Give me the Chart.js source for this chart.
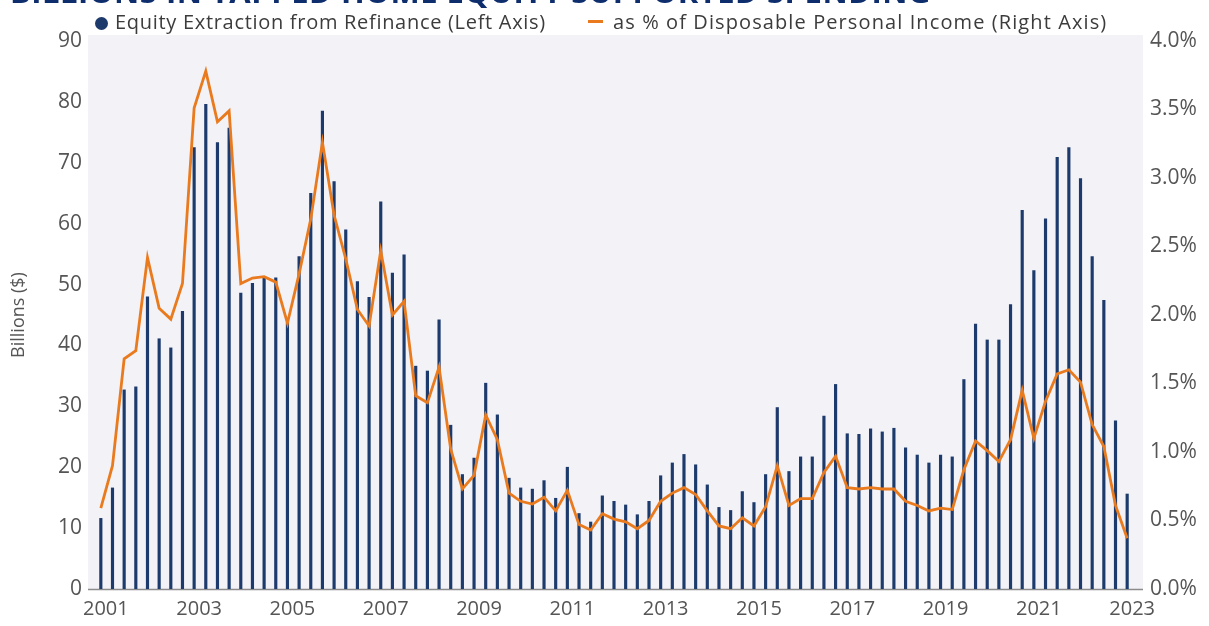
<!DOCTYPE html>
<html>
<head>
<meta charset="utf-8">
<script src="https://cdn.jsdelivr.net/npm/chart.js@4"></script>
<style>
  html, body { margin: 0; padding: 0; background: #fff; }
  #wrap { position: relative; width: 1209px; height: 626px; overflow: hidden; }
  #title {
    position: absolute; left: 10px; top: -30px; white-space: nowrap;
    font: 700 31px "Open Sans", Roboto, sans-serif; color: #0d2d6c; letter-spacing: 0.5px;
  }
  canvas { position: absolute; left: 0; top: 0; }
  .legend { position: absolute; top: 8px; height: 24px; line-height: 24px; white-space: nowrap;
    font: 20px "Open Sans", sans-serif; color: #3c3c3c; letter-spacing: 0.7px; }
  #leg2 { letter-spacing: 1.1px; }
  .legend .dot { display: inline-block; width: 13px; height: 13px; border-radius: 50%; background: #1c3a6b;
    vertical-align: -1px; margin-right: 7px; }
  .legend .ln { display: inline-block; width: 15px; height: 3px; background: #ea7a1e;
    vertical-align: 6px; margin-right: 10px; }
</style>
</head>
<body>
<div id="wrap">
  <canvas id="myChart" width="1209" height="626"></canvas>
  <div id="title">BILLIONS IN TAPPED HOME EQUITY SUPPORTED SPENDING</div>
  <div class="legend" id="leg1" style="left:95px"><span class="dot"></span></div>
  <div class="legend" id="leg2" style="left:588px"><span class="ln"></span></div>
</div>
<script>
// quarterly, 2001 Q1 .. 2023 Q1
const firstYear = 2001
const lastYear = 2023
const quarters = []
for (let y = firstYear; y <= lastYear; y++) {
    for (let q = 1; q <= 4; q++) {
        if (y === lastYear && q > 1) break
        quarters.push(y + ' Q' + q)
    }
}

const seriesNames = [
    'Equity Extraction from Refinance (Left Axis)',
    'as % of Disposable Personal Income (Right Axis)'
]

// equity extraction from refinance, billions $
const equityExtraction = [
    11.6, 16.6, 32.7, 33.2, 48.0, 41.1, 39.6, 45.6, 72.5, 79.6, 73.3, 75.7,
    48.6, 50.2, 51.1, 51.1, 43.7, 54.6, 65.0, 78.5, 66.9, 59.0,
    50.5, 47.9, 63.6, 51.9, 54.9, 36.6, 35.8, 44.2, 26.9, 18.8, 21.5, 33.8,
    28.6, 18.2, 16.6, 16.4, 17.8, 14.9, 20.0, 12.4, 11.0, 15.3, 14.4,
    13.8, 12.2, 14.4, 18.6, 20.7, 22.1, 20.4, 17.1, 13.4, 12.9, 16.0, 14.2,
    18.8, 29.8, 19.3, 21.7, 21.7, 28.4, 33.6, 25.5, 25.4, 26.3, 25.8,
    26.4, 23.2, 22.0, 20.7, 22.0, 21.7, 34.4, 43.5, 40.9, 40.9, 46.7, 62.2,
    52.3, 60.8, 70.9, 72.5, 67.4, 54.6, 47.4, 27.6, 15.6
]

// as % of disposable personal income
const pctOfIncome = [
    0.59, 0.90, 1.68, 1.74, 2.42, 2.05, 1.97, 2.23, 3.51, 3.78, 3.41, 3.49,
    2.23, 2.27, 2.28, 2.24, 1.94, 2.30, 2.70, 3.26, 2.73, 2.41,
    2.04, 1.92, 2.47, 2.00, 2.10, 1.41, 1.36, 1.62, 1.02, 0.73, 0.83, 1.27,
    1.09, 0.70, 0.64, 0.62, 0.67, 0.57, 0.72, 0.47, 0.43, 0.55, 0.51,
    0.49, 0.44, 0.50, 0.64, 0.70, 0.74, 0.69, 0.57, 0.46, 0.44, 0.52, 0.46,
    0.60, 0.90, 0.61, 0.66, 0.66, 0.85, 0.97, 0.74, 0.73, 0.74, 0.73,
    0.73, 0.64, 0.61, 0.57, 0.59, 0.58, 0.87, 1.08, 1.01, 0.93, 1.09, 1.45,
    1.10, 1.37, 1.57, 1.60, 1.51, 1.20, 1.04, 0.61, 0.37
]

const navy = '#1c3a6b'
const orange = '#ea7a1e'
const tickColor = '#555555'
const tickFont = {family: 'Open Sans', size: 20}
const yTickFont = {family: 'Open Sans', size: 21}

document.getElementById('leg1').appendChild(document.createTextNode(seriesNames[0]))
document.getElementById('leg2').appendChild(document.createTextNode(seriesNames[1]))

// grey plot panel + base line
const panel = {
    id: 'panel',
    beforeDraw(chart) {
        const {ctx, chartArea: a} = chart
        ctx.save()
        ctx.fillStyle = '#f2f2f7'
        ctx.fillRect(a.left - 7, a.top - 6, a.right - a.left + 17, a.bottom - a.top + 6)
        ctx.restore()
    },
    beforeDatasetsDraw(chart) {
        const {ctx, chartArea: a} = chart
        ctx.save()
        ctx.strokeStyle = '#8c8c8c'
        ctx.lineWidth = 1.5
        ctx.beginPath()
        ctx.moveTo(a.left - 7, a.bottom + 0.5)
        ctx.lineTo(a.right + 10, a.bottom + 0.5)
        ctx.stroke()
        ctx.restore()
    }
}

const ch = document.getElementById('myChart')
const chart = new Chart(ch, {
    type: 'bar',
    data: {
        labels: quarters,
        datasets: [{
            type: 'line',
            label: seriesNames[1],
            data: pctOfIncome,
            yAxisID: 'y1',
            borderColor: orange,
            backgroundColor: orange,
            borderWidth: 2.8,
            pointRadius: 0,
            tension: 0,
            order: 0
        }, {
            label: seriesNames[0],
            data: equityExtraction,
            yAxisID: 'y',
            backgroundColor: navy,
            borderWidth: 0,
            barThickness: 2.5,
            order: 1
        }]
    },
    options: {
        responsive: false,
        animation: false,
        layout: {padding: {top: 41, left: 0, right: 0, bottom: 0}},
        plugins: {
            tooltip: {enabled: false},
            legend: {display: false}
        },
        scales: {
            x: {
                grid: {display: false, drawTicks: false},
                border: {display: false},
                ticks: {
                    autoSkip: false,
                    maxRotation: 0,
                    padding: 8,
                    labelOffset: 5,
                    color: tickColor,
                    font: tickFont,
                    callback: function (v, i) {
                        const lab = quarters[i]
                        const yr = parseInt(lab)
                        return (lab.endsWith('Q1') && yr % 2 === 1) ? String(yr) : ''
                    }
                },
                afterFit: (s) => { s.height = 37 }
            },
            y: {
                position: 'left',
                min: 0, max: 90,
                grid: {display: false, drawTicks: false},
                border: {display: false},
                ticks: {stepSize: 10, padding: 13, color: tickColor, font: yTickFont},
                title: {display: true, text: 'Billions ($)', color: tickColor,
                        font: {family: 'Open Sans', size: 18}, padding: {top: 8, bottom: 0}},
                afterFit: (s) => { s.width = 95 }
            },
            y1: {
                position: 'right',
                min: 0, max: 4,
                grid: {display: false, drawTicks: false},
                border: {display: false},
                ticks: {
                    stepSize: 0.5, padding: 17, color: tickColor,
                    font: yTickFont,
                    callback: (v) => v.toFixed(1) + '%'
                },
                afterFit: (s) => { s.width = 76 }
            }
        }
    },
    plugins: [panel]
})
</script>
</body>
</html>
